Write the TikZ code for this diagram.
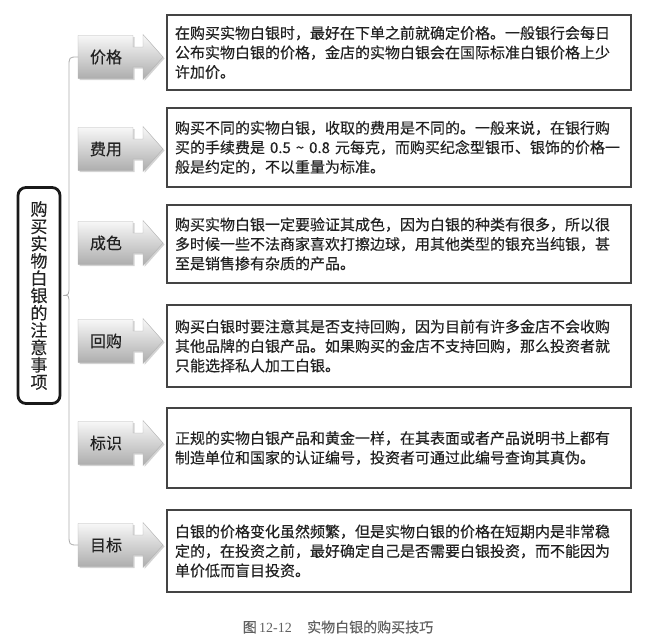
\documentclass[tikz,border=0pt]{standalone}
\usepackage{fontspec}
\setmainfont{Noto Sans CJK SC}[FakeBold=0.35]
\newfontfamily\capfont{Liberation Serif}
\usetikzlibrary{shadows}
\definecolor{boxline}{HTML}{444444}
\definecolor{txt}{HTML}{222222}
\tikzset{
  tagshape/.pic={
    \path[tagarrow] (0,-21.5) -- (55,-21.5) -- (55,-10) -- (65,-10) -- (65,-22.5)
      -- (85,0) -- (65,22.5) -- (65,10) -- (55,10) -- (55,21.5) -- (0,21.5) -- cycle;
  }
}
\begin{document}
\begin{tikzpicture}[x=1pt,y=-1pt,
  every node/.style={text=txt},
  infobox/.style={draw=boxline,line width=1.8pt,text width=448pt,inner sep=8pt,align=left,
    font=\fontsize{15}{19.5}\selectfont},
  tagarrow/.style={draw=gray!60,line width=0.4pt,top color=gray!5,bottom color=gray!65,
    drop shadow={shadow xshift=1.5pt,shadow yshift=-1.5pt,opacity=0.35}},
  taglabel/.style={font=\fontsize{16}{16}\selectfont,inner sep=0pt},
  sidebox/.style={draw=gray!20!black,line width=2.8pt,rounded corners=8pt,minimum width=42pt,
    minimum height=216pt,inner sep=0pt,align=center,font=\fontsize{17}{17.3}\selectfont},
  brace/.style={draw=gray!65,line width=0.8pt}]

\useasboundingbox (0,0) rectangle (664,637);

\begin{scope}
\node[sidebox] (side) at (39,295.5) {购\\买\\实\\物\\白\\银\\的\\注\\意\\事\\项};

\path (78,57) pic {tagshape};
\path (78,149) pic {tagshape};
\path (78,243) pic {tagshape};
\path (78,341) pic {tagshape};
\path (78,443) pic {tagshape};
\path (78,545) pic {tagshape};

\node[taglabel] (price) at (106,57) {价格};
\node[taglabel] (fee) at (106,149) {费用};
\node[taglabel] (purity) at (106,243) {成色};
\node[taglabel] (buyback) at (106,341) {回购};
\node[taglabel] (mark) at (106,443) {标识};
\node[taglabel] (goal) at (106,545) {目标};

\coordinate (price-w) at (78,57);
\coordinate (goal-w) at (78,545);

\draw[brace] ([xshift=2pt]side.east) .. controls (69,295) .. (69,285) -- (69,67) .. controls (69,57) .. (price-w);
\draw[brace] ([xshift=2pt]side.east) .. controls (69,295) .. (69,305) -- (69,534) .. controls (69,545) .. (goal-w);

\node[infobox,minimum height=75pt] (price-box) at (399,52.5) {在购买实物白银时，最好在下单之前就确定价格。一般银行会每日\\公布实物白银的价格，金店的实物白银会在国际标准白银价格上少\\许加价。};
\node[infobox,minimum height=79pt] (fee-box) at (399,147.5) {购买不同的实物白银，收取的费用是不同的。一般来说，在银行购\\买的手续费是 0.5 \textasciitilde{} 0.8 元每克，而购买纪念型银币、银饰的价格一\\般是约定的，不以重量为标准。};
\node[infobox,minimum height=78pt] (purity-box) at (399,244) {购买实物白银一定要验证其成色，因为白银的种类有很多，所以很\\多时候一些不法商家喜欢打擦边球，用其他类型的银充当纯银，甚\\至是销售掺有杂质的产品。};
\node[infobox,minimum height=82pt] (buyback-box) at (399,346) {购买白银时要注意其是否支持回购，因为目前有许多金店不会收购\\其他品牌的白银产品。如果购买的金店不支持回购，那么投资者就\\只能选择私人加工白银。};
\node[infobox,minimum height=80pt] (mark-box) at (399,448) {正规的实物白银产品和黄金一样，在其表面或者产品说明书上都有\\制造单位和国家的认证编号，投资者可通过此编号查询其真伪。};
\node[infobox,minimum height=82pt] (goal-box) at (399,551) {白银的价格变化虽然频繁，但是实物白银的价格在短期内是非常稳\\定的，在投资之前，最好确定自己是否需要白银投资，而不能因为\\单价低而盲目投资。};

\node[font=\fontsize{14}{14}\selectfont,text=gray!75!black] (cap) at (338,627) {图\,{\capfont 12-12}\hspace{1.1em}实物白银的购买技巧};
\end{scope}

\end{tikzpicture}
\end{document}
